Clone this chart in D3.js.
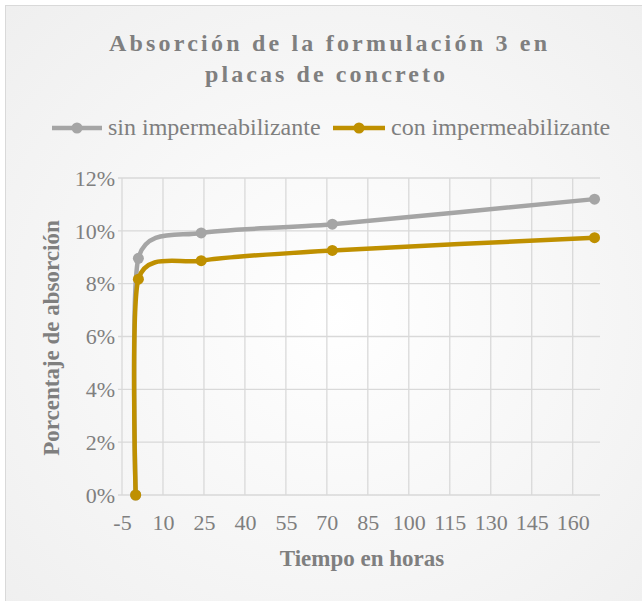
<!DOCTYPE html>
<html><head><meta charset="utf-8">
<script src="https://cdn.jsdelivr.net/npm/d3@7"></script>
<style>html,body{margin:0;padding:0;background:#fff;}svg{display:block;}</style>
</head><body>
<svg id="chart" width="642" height="601"></svg>
<script>
const hours = [0, 1, 24, 72, 168];
const sinValues = [0, 8.96, 9.92, 10.25, 11.2];
const conValues = [0, 8.17, 8.87, 9.26, 9.74];
const seriesNames = ["sin impermeabilizante", "con impermeabilizante"];
const seriesColors = ["#a5a5a5", "#bf9000"];
const xTicks = [-5, 10, 25, 40, 55, 70, 85, 100, 115, 130, 145, 160];
const yTicks = [0, 2, 4, 6, 8, 10, 12];
const titleLines = ["Absorción de la formulación 3 en", "placas de concreto"];
const xTitle = "Tiempo en horas";
const yTitle = "Porcentaje de absorción";

const svg = d3.select("#chart");
const defs = svg.append("defs");
const grad = defs.append("radialGradient").attr("id","bg").attr("cx","50%").attr("cy","50%").attr("r","70%");
grad.append("stop").attr("offset","0%").attr("stop-color","#ffffff");
grad.append("stop").attr("offset","100%").attr("stop-color","#efefef");
svg.append("rect").attr("x",5.5).attr("y",5.5).attr("width",660).attr("height",620)
  .attr("fill","url(#bg)").attr("stroke","#d9d9d9").attr("stroke-width",1);

const x = d3.scaleLinear().domain([-5, 170]).range([122, 600]);
const y = d3.scaleLinear().domain([0, 12]).range([495, 178]);
const textColor = "#7f7f7f";
const font = "'Liberation Serif','Times New Roman',serif";

// gridlines
svg.append("g").selectAll("line").data(yTicks).join("line")
  .attr("x1", x(-5)-4).attr("x2", x(170)).attr("y1", d=>y(d)).attr("y2", d=>y(d))
  .attr("stroke","#d9d9d9").attr("stroke-width",1.3);
svg.append("g").selectAll("line").data(xTicks).join("line")
  .attr("x1", d=>x(d)).attr("x2", d=>x(d)).attr("y1", y(0)).attr("y2", y(12))
  .attr("stroke","#d9d9d9").attr("stroke-width",1.3);

// axes labels via d3 axes
const yAxis = svg.append("g").attr("transform",`translate(${x(-5)},0)`)
  .call(d3.axisLeft(y).tickValues(yTicks).tickFormat(d=>d+"%").tickSize(0).tickPadding(7));
yAxis.select(".domain").remove();
yAxis.selectAll("text").attr("font-family",font).attr("font-size",22).attr("fill",textColor).attr("dy","0.33em");

const xAxis = svg.append("g").attr("transform",`translate(0,${y(0)})`)
  .call(d3.axisBottom(x).tickValues(xTicks).tickFormat(d=>String(d)).tickSize(0));
xAxis.select(".domain").remove();
xAxis.selectAll("text").attr("font-family",font).attr("font-size",22).attr("fill",textColor)
  .attr("dy",null).attr("y",35);

// series
const line = d3.line().x(d=>x(d[0])).y(d=>y(d[1])).curve(d3.curveCardinal.tension(0.3));
[sinValues, conValues].forEach((vals,i)=>{
  const pts = hours.map((h,j)=>[h, vals[j]]);
  svg.append("path").attr("d", line(pts)).attr("fill","none")
    .attr("stroke", seriesColors[i]).attr("stroke-width",4.5).attr("stroke-linecap","round").attr("stroke-linejoin","round");
  svg.append("g").selectAll("circle").data(pts).join("circle")
    .attr("cx", d=>x(d[0])).attr("cy", d=>y(d[1])).attr("r",5.5).attr("fill", seriesColors[i]);
});

// title
svg.append("text").attr("x",328).attr("y",51).attr("text-anchor","middle")
  .attr("font-family",font).attr("font-weight","bold").attr("font-size",24).attr("fill",textColor)
  .attr("textLength",438).attr("lengthAdjust","spacing").text(titleLines[0]);
svg.append("text").attr("x",325).attr("y",82).attr("text-anchor","middle")
  .attr("font-family",font).attr("font-weight","bold").attr("font-size",24).attr("fill",textColor)
  .attr("textLength",240).attr("lengthAdjust","spacing").text(titleLines[1]);

// legend
const legendItems = [{x0:52, x1:102, tx:108}, {x0:333, x1:385, tx:391}];
legendItems.forEach((l,i)=>{
  svg.append("line").attr("x1",l.x0).attr("x2",l.x1).attr("y1",128).attr("y2",128)
    .attr("stroke",seriesColors[i]).attr("stroke-width",4.5);
  svg.append("circle").attr("cx",(l.x0+l.x1)/2).attr("cy",128).attr("r",5.5).attr("fill",seriesColors[i]);
  svg.append("text").attr("x",l.tx).attr("y",135).attr("font-family",font).attr("font-size",24)
    .attr("fill",textColor).text(seriesNames[i]);
});

// axis titles
svg.append("text").attr("x",362).attr("y",566).attr("text-anchor","middle")
  .attr("font-family",font).attr("font-weight","bold").attr("font-size",23).attr("fill",textColor).text(xTitle);
svg.append("text").attr("transform","translate(59,338) rotate(-90)").attr("text-anchor","middle")
  .attr("font-family",font).attr("font-weight","bold").attr("font-size",23).attr("fill",textColor).text(yTitle);
</script>
</body></html>
